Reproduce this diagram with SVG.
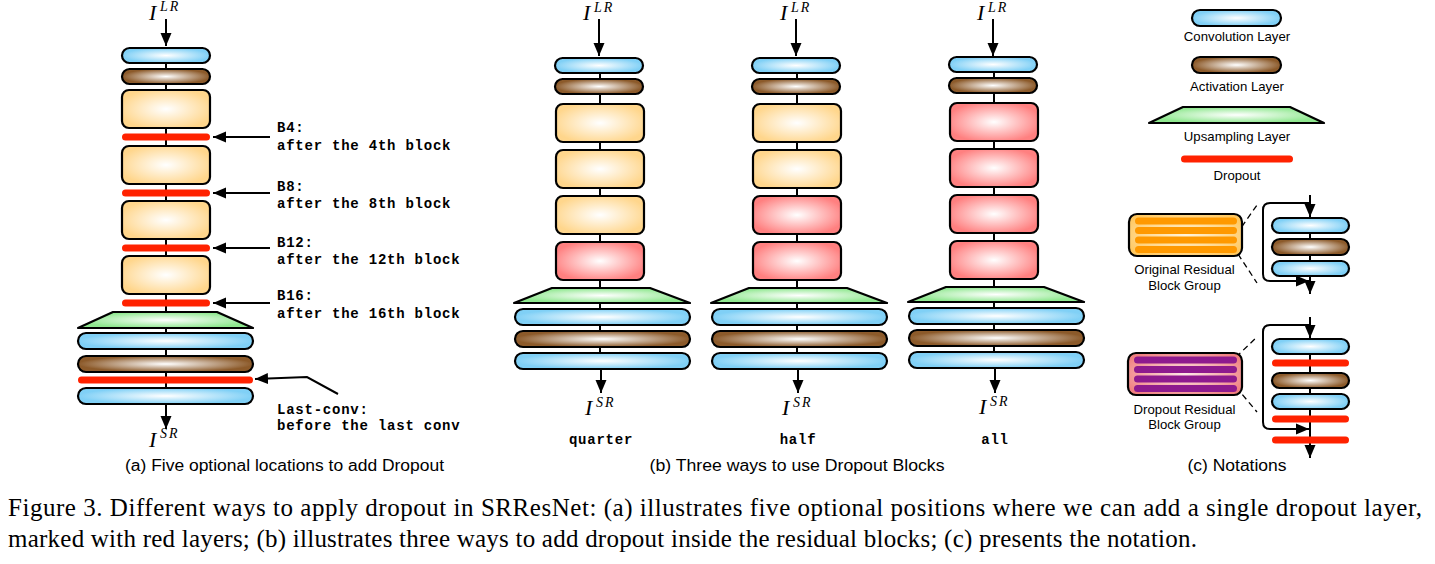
<svg xmlns="http://www.w3.org/2000/svg" width="1435" height="564" viewBox="0 0 1435 564">
<defs>
<radialGradient id="gConv" cx="50%" cy="50%" r="50%"><stop offset="0" stop-color="#ffffff"/><stop offset="1" stop-color="#80d0f6"/></radialGradient>
<radialGradient id="gAct" cx="50%" cy="50%" r="50%"><stop offset="0" stop-color="#ffffff"/><stop offset="1" stop-color="#8c5a2a"/></radialGradient>
<radialGradient id="gOr" cx="50%" cy="50%" r="55%"><stop offset="0" stop-color="#ffffff"/><stop offset="1" stop-color="#ffd68c"/></radialGradient>
<radialGradient id="gRed" cx="50%" cy="50%" r="55%"><stop offset="0" stop-color="#ffffff"/><stop offset="1" stop-color="#ff8080"/></radialGradient>
<radialGradient id="gUp" cx="50%" cy="50%" r="50%"><stop offset="0" stop-color="#ffffff"/><stop offset="1" stop-color="#8fe88f"/></radialGradient>
<radialGradient id="gGrpO" cx="50%" cy="50%" r="60%"><stop offset="0" stop-color="#fff4dc"/><stop offset="1" stop-color="#ffc860"/></radialGradient>
<radialGradient id="gGrpR" cx="50%" cy="50%" r="60%"><stop offset="0" stop-color="#ffe8e8"/><stop offset="1" stop-color="#f08080"/></radialGradient>
<marker id="ah" markerUnits="userSpaceOnUse" markerWidth="14" markerHeight="12" refX="13" refY="6" orient="auto"><path d="M0,0.5 L13,6 L0,11.5 z" fill="#000"/></marker>
</defs>
<style>
.conv{fill:url(#gConv);stroke:#000;stroke-width:2.2}
.act{fill:url(#gAct);stroke:#000;stroke-width:2.2}
.blk{fill:url(#gOr);stroke:#000;stroke-width:2.2}
.rblk{fill:url(#gRed);stroke:#000;stroke-width:2.2}
.up{fill:url(#gUp);stroke:#000;stroke-width:2.2;stroke-linejoin:round}
.drop{stroke:#ff2200;stroke-width:7;stroke-linecap:round;fill:none}
.wire{stroke:#000;stroke-width:2;fill:none}
.arr{stroke:#000;stroke-width:2;fill:none;marker-end:url(#ah)}
.dash{stroke:#000;stroke-width:1.3;stroke-dasharray:6,4;fill:none}
.ostripe{stroke:#ff9900;stroke-width:7;stroke-linecap:round}
.pstripe{stroke:#8e1a8e;stroke-width:7;stroke-linecap:round}
.grpO{fill:url(#gGrpO);stroke:#000;stroke-width:2.2}
.grpR{fill:url(#gGrpR);stroke:#000;stroke-width:2.2}
.mono{font-family:"Liberation Mono",monospace;font-weight:bold;font-size:14px;letter-spacing:0.77px;fill:#000}
.sans{font-family:"Liberation Sans",Arial,sans-serif;font-size:13.2px;fill:#000}
.cap{font-family:"Liberation Sans",Arial,sans-serif;font-size:16px;fill:#000}
.math{font-family:"Liberation Serif",serif;font-style:italic;fill:#000}
.serif{font-family:"Liberation Serif","Times New Roman",serif;font-size:25px;fill:#000}
</style>

<!-- ================= connectors ================= -->
<g id="connectors">
  <!-- panel a -->
  <line class="arr" x1="166" y1="19" x2="166" y2="46"/>
  <line class="wire" x1="166" y1="60" x2="166" y2="400"/>
  <line class="arr" x1="166" y1="404" x2="166" y2="429"/>
  <line class="arr" x1="270" y1="137" x2="213" y2="137"/>
  <line class="arr" x1="270" y1="193" x2="213" y2="193"/>
  <line class="arr" x1="270" y1="248" x2="213" y2="248"/>
  <line class="arr" x1="270" y1="303" x2="213" y2="303"/>
  <polyline class="arr" points="338,394 307,377 255,379"/>
  <!-- panel b -->
  <line class="arr" x1="599" y1="19" x2="599" y2="56"/>
  <line class="wire" x1="600" y1="70" x2="600" y2="366"/>
  <line class="arr" x1="601" y1="369" x2="601" y2="393"/>
  <line class="arr" x1="796" y1="19" x2="796" y2="56"/>
  <line class="wire" x1="797" y1="70" x2="797" y2="366"/>
  <line class="arr" x1="798" y1="369" x2="798" y2="393"/>
  <line class="arr" x1="993" y1="19" x2="993" y2="56"/>
  <line class="wire" x1="994" y1="70" x2="994" y2="366"/>
  <line class="arr" x1="995" y1="369" x2="995" y2="393"/>
  <!-- panel c, original residual -->
  <line class="arr" x1="1310" y1="195" x2="1310" y2="217"/>
  <line class="wire" x1="1310" y1="230" x2="1310" y2="278"/>
  <line class="arr" x1="1310" y1="276" x2="1310" y2="294"/>
  <path class="arr" d="M1310,203 H1270 Q1263,203 1263,210 V274 Q1263,281 1270,281 H1309"/>
  <line class="dash" x1="1236" y1="235" x2="1257" y2="205"/>
  <line class="dash" x1="1238" y1="254" x2="1257" y2="283"/>
  <!-- panel c, dropout residual -->
  <line class="arr" x1="1310" y1="317" x2="1310" y2="338"/>
  <line class="wire" x1="1310" y1="350" x2="1310" y2="445"/>
  <line class="arr" x1="1310" y1="440" x2="1310" y2="458"/>
  <path class="arr" d="M1310,325 H1270 Q1263,325 1263,332 V422 Q1263,429 1270,429 H1309"/>
  <line class="dash" x1="1236" y1="357" x2="1257" y2="337"/>
  <line class="dash" x1="1236" y1="387" x2="1257" y2="412"/>
</g>

<!-- ================= panel a ================= -->
<g id="a-input"><text class="math" x="149" y="20" font-size="22">I</text><text class="math" x="160" y="11" font-size="14" letter-spacing="2">LR</text></g>
<g id="a-conv1"><rect class="conv" x="122" y="48" width="88" height="15" rx="7.5"/></g>
<g id="a-act1"><rect class="act" x="122" y="69" width="88" height="15" rx="7.5"/></g>
<g id="a-blk1"><rect class="blk" x="122" y="90" width="88" height="38" rx="7"/></g>
<g id="a-drop-b4"><line class="drop" x1="125.5" y1="137" x2="206.5" y2="137"/></g>
<g id="a-blk2"><rect class="blk" x="122" y="146" width="88" height="38" rx="7"/></g>
<g id="a-drop-b8"><line class="drop" x1="125.5" y1="193" x2="206.5" y2="193"/></g>
<g id="a-blk3"><rect class="blk" x="122" y="201" width="88" height="38" rx="7"/></g>
<g id="a-drop-b12"><line class="drop" x1="125.5" y1="248" x2="206.5" y2="248"/></g>
<g id="a-blk4"><rect class="blk" x="122" y="256" width="88" height="38" rx="7"/></g>
<g id="a-drop-b16"><line class="drop" x1="125.5" y1="303" x2="206.5" y2="303"/></g>
<g id="a-up"><polygon class="up" points="113,312 217,312 253,328 78,328"/></g>
<g id="a-conv2"><rect class="conv" x="78" y="333" width="175" height="16" rx="8"/></g>
<g id="a-act2"><rect class="act" x="78" y="356" width="175" height="16" rx="8"/></g>
<g id="a-drop-last"><line class="drop" x1="81.5" y1="380" x2="249.5" y2="380"/></g>
<g id="a-conv3"><rect class="conv" x="78" y="388" width="175" height="16" rx="8"/></g>
<g id="a-output"><text class="math" x="149" y="447" font-size="22">I</text><text class="math" x="160" y="438" font-size="14" letter-spacing="2">SR</text></g>
<g id="a-labels">
  <text class="mono" x="277" y="132">B4:</text>
  <text class="mono" x="277" y="150">after the 4th block</text>
  <text class="mono" x="277" y="191">B8:</text>
  <text class="mono" x="277" y="208">after the 8th block</text>
  <text class="mono" x="277" y="247">B12:</text>
  <text class="mono" x="277" y="264">after the 12th block</text>
  <text class="mono" x="277" y="300">B16:</text>
  <text class="mono" x="277" y="318">after the 16th block</text>
  <text class="mono" x="277" y="414">Last-conv:</text>
  <text class="mono" x="277" y="430">before the last conv</text>
</g>
<g id="a-caption"><text class="cap" x="284.5" y="471" text-anchor="middle" textLength="319" lengthAdjust="spacingAndGlyphs">(a) Five optional locations to add Dropout</text></g>

<!-- ================= panel b ================= -->
<!-- quarter -->
<g id="b1-input"><text class="math" x="583" y="20" font-size="22">I</text><text class="math" x="594" y="12" font-size="14" letter-spacing="2">LR</text></g>
<g id="b1-conv1"><rect class="conv" x="555" y="58" width="88" height="15" rx="7.5"/></g>
<g id="b1-act1"><rect class="act" x="555" y="79" width="88" height="15" rx="7.5"/></g>
<g id="b1-blk1"><rect class="blk" x="556" y="104" width="88" height="38" rx="7"/></g>
<g id="b1-blk2"><rect class="blk" x="556" y="150" width="88" height="38" rx="7"/></g>
<g id="b1-blk3"><rect class="blk" x="556" y="196" width="88" height="38" rx="7"/></g>
<g id="b1-blk4"><rect class="rblk" x="556" y="242" width="88" height="38" rx="7"/></g>
<g id="b1-up"><polygon class="up" points="552,288 650,288 690,303 514,303"/></g>
<g id="b1-conv2"><rect class="conv" x="515" y="309" width="175" height="16" rx="8"/></g>
<g id="b1-act2"><rect class="act" x="515" y="331" width="175" height="16" rx="8"/></g>
<g id="b1-conv3"><rect class="conv" x="515" y="353" width="175" height="16" rx="8"/></g>
<g id="b1-output"><text class="math" x="585" y="415" font-size="22">I</text><text class="math" x="596" y="407" font-size="14" letter-spacing="2">SR</text></g>
<g id="b1-label"><text class="mono" x="601" y="444" text-anchor="middle">quarter</text></g>
<!-- half -->
<g id="b2-input"><text class="math" x="780" y="20" font-size="22">I</text><text class="math" x="791" y="12" font-size="14" letter-spacing="2">LR</text></g>
<g id="b2-conv1"><rect class="conv" x="752" y="58" width="88" height="15" rx="7.5"/></g>
<g id="b2-act1"><rect class="act" x="752" y="79" width="88" height="15" rx="7.5"/></g>
<g id="b2-blk1"><rect class="blk" x="753" y="104" width="88" height="38" rx="7"/></g>
<g id="b2-blk2"><rect class="blk" x="753" y="150" width="88" height="38" rx="7"/></g>
<g id="b2-blk3"><rect class="rblk" x="753" y="196" width="88" height="38" rx="7"/></g>
<g id="b2-blk4"><rect class="rblk" x="753" y="242" width="88" height="38" rx="7"/></g>
<g id="b2-up"><polygon class="up" points="749,288 847,288 887,303 711,303"/></g>
<g id="b2-conv2"><rect class="conv" x="712" y="309" width="175" height="16" rx="8"/></g>
<g id="b2-act2"><rect class="act" x="712" y="331" width="175" height="16" rx="8"/></g>
<g id="b2-conv3"><rect class="conv" x="712" y="353" width="175" height="16" rx="8"/></g>
<g id="b2-output"><text class="math" x="782" y="415" font-size="22">I</text><text class="math" x="793" y="407" font-size="14" letter-spacing="2">SR</text></g>
<g id="b2-label"><text class="mono" x="798" y="444" text-anchor="middle">half</text></g>
<!-- all -->
<g id="b3-input"><text class="math" x="977" y="20" font-size="22">I</text><text class="math" x="988" y="12" font-size="14" letter-spacing="2">LR</text></g>
<g id="b3-conv1"><rect class="conv" x="949" y="57" width="88" height="15" rx="7.5"/></g>
<g id="b3-act1"><rect class="act" x="949" y="78" width="88" height="15" rx="7.5"/></g>
<g id="b3-blk1"><rect class="rblk" x="950" y="103" width="88" height="38" rx="7"/></g>
<g id="b3-blk2"><rect class="rblk" x="950" y="149" width="88" height="38" rx="7"/></g>
<g id="b3-blk3"><rect class="rblk" x="950" y="195" width="88" height="38" rx="7"/></g>
<g id="b3-blk4"><rect class="rblk" x="950" y="241" width="88" height="38" rx="7"/></g>
<g id="b3-up"><polygon class="up" points="946,287 1044,287 1084,302 908,302"/></g>
<g id="b3-conv2"><rect class="conv" x="909" y="308" width="175" height="16" rx="8"/></g>
<g id="b3-act2"><rect class="act" x="909" y="330" width="175" height="16" rx="8"/></g>
<g id="b3-conv3"><rect class="conv" x="909" y="352" width="175" height="16" rx="8"/></g>
<g id="b3-output"><text class="math" x="979" y="414" font-size="22">I</text><text class="math" x="990" y="406" font-size="14" letter-spacing="2">SR</text></g>
<g id="b3-label"><text class="mono" x="995" y="444" text-anchor="middle">all</text></g>
<g id="b-caption"><text class="cap" x="797" y="471" text-anchor="middle" textLength="295" lengthAdjust="spacingAndGlyphs">(b) Three ways to use Dropout Blocks</text></g>

<!-- ================= panel c ================= -->
<g id="c-conv"><rect class="conv" x="1192" y="10" width="89" height="16" rx="8"/><text class="sans" x="1237" y="41" text-anchor="middle">Convolution Layer</text></g>
<g id="c-act"><rect class="act" x="1192" y="57" width="89" height="16" rx="8"/><text class="sans" x="1237" y="91" text-anchor="middle">Activation Layer</text></g>
<g id="c-up"><polygon class="up" points="1183,107 1290,107 1324,123 1149,123"/><text class="sans" x="1237" y="141" text-anchor="middle">Upsampling Layer</text></g>
<g id="c-drop"><line class="drop" x1="1184.5" y1="159" x2="1289.5" y2="159"/><text class="sans" x="1237" y="180" text-anchor="middle">Dropout</text></g>

<g id="c-orig-group">
  <rect class="grpO" x="1129" y="214" width="113" height="42" rx="8"/>
  <line class="ostripe" x1="1138.5" y1="221" x2="1233.5" y2="221"/>
  <line class="ostripe" x1="1138.5" y1="230.5" x2="1233.5" y2="230.5"/>
  <line class="ostripe" x1="1138.5" y1="240" x2="1233.5" y2="240"/>
  <line class="ostripe" x1="1138.5" y1="249.5" x2="1233.5" y2="249.5"/>
  <text class="sans" x="1184.5" y="274" text-anchor="middle">Original Residual</text>
  <text class="sans" x="1184.5" y="290" text-anchor="middle">Block Group</text>
</g>
<g id="c-orig-conv1"><rect class="conv" x="1272" y="218" width="77" height="15" rx="7.5"/></g>
<g id="c-orig-act"><rect class="act" x="1272" y="239" width="77" height="16" rx="8"/></g>
<g id="c-orig-conv2"><rect class="conv" x="1272" y="261" width="77" height="15" rx="7.5"/></g>

<g id="c-drop-group">
  <rect class="grpR" x="1128" y="353" width="114" height="42" rx="8"/>
  <line class="pstripe" x1="1137.5" y1="360" x2="1233.5" y2="360"/>
  <line class="pstripe" x1="1137.5" y1="369.5" x2="1233.5" y2="369.5"/>
  <line class="pstripe" x1="1137.5" y1="379" x2="1233.5" y2="379"/>
  <line class="pstripe" x1="1137.5" y1="388.5" x2="1233.5" y2="388.5"/>
  <text class="sans" x="1184.5" y="414" text-anchor="middle">Dropout Residual</text>
  <text class="sans" x="1184.5" y="429" text-anchor="middle">Block Group</text>
</g>
<g id="c-drop-conv1"><rect class="conv" x="1272" y="339" width="77" height="15" rx="7.5"/></g>
<g id="c-drop-d1"><line class="drop" x1="1275.5" y1="363" x2="1345.5" y2="363"/></g>
<g id="c-drop-act"><rect class="act" x="1272" y="373" width="77" height="15" rx="7.5"/></g>
<g id="c-drop-conv2"><rect class="conv" x="1272" y="394" width="77" height="15" rx="7.5"/></g>
<g id="c-drop-d2"><line class="drop" x1="1275.5" y1="419" x2="1345.5" y2="419"/></g>
<g id="c-drop-d3"><line class="drop" x1="1275.5" y1="440" x2="1345.5" y2="440"/></g>
<g id="c-caption"><text class="cap" x="1237" y="471" text-anchor="middle" textLength="99" lengthAdjust="spacingAndGlyphs">(c) Notations</text></g>

<!-- ================= figure caption ================= -->
<g id="figure-caption">
  <text class="serif" x="8" y="516" textLength="1414" lengthAdjust="spacing">Figure 3.  Different ways to apply dropout in SRResNet: (a) illustrates five optional positions where we can add a single dropout layer,</text>
  <text class="serif" x="8" y="547" textLength="1189" lengthAdjust="spacing">marked with red layers; (b) illustrates three ways to add dropout inside the residual blocks; (c) presents the notation.</text>
</g>
</svg>
